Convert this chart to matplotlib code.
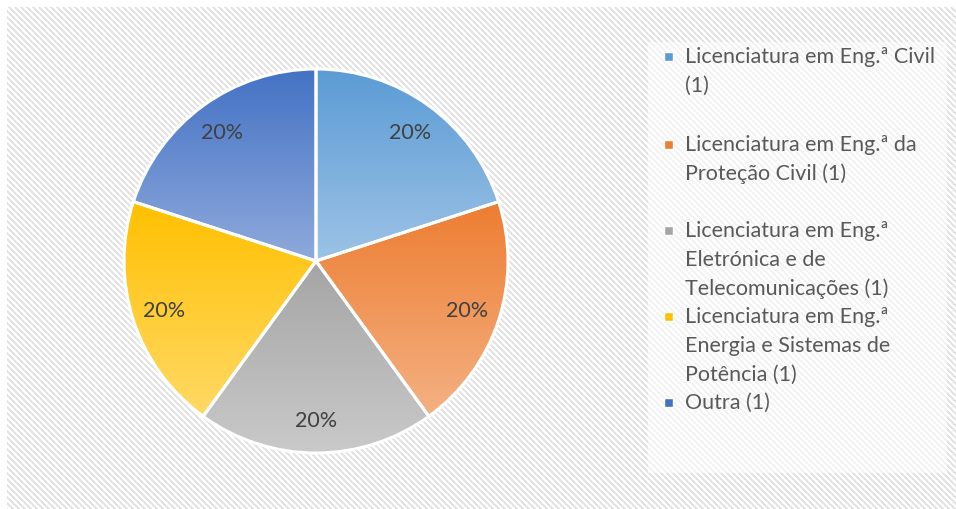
import numpy as np
import matplotlib
matplotlib.use("Agg")
import matplotlib.pyplot as plt
from matplotlib.colors import LinearSegmentedColormap

plt.rcParams['font.family'] = ['Lato', 'DejaVu Sans']

labels = ["Licenciatura em Eng.ª Civil\n(1)",
          "Licenciatura em Eng.ª da\nProteção Civil (1)",
          "Licenciatura em Eng.ª\nEletrónica e de\nTelecomunicações (1)",
          "Licenciatura em Eng.ª\nEnergia e Sistemas de\nPotência (1)",
          "Outra (1)"]
values = [1, 1, 1, 1, 1]
top_colors = ["#5B9BD5", "#ED7D31", "#A5A5A5", "#FFC000", "#4472C4"]
bottom_colors = ["#9DC3E6", "#F4B183", "#C9C9C9", "#FFD966", "#8FAADC"]
legend_y = [57, 145, 231, 317, 403]  # pixel rows of first legend line

W, H = 956, 510
fig = plt.figure(figsize=(W / 100, H / 100), dpi=100)

# background stripes
bg = fig.add_axes([0, 0, 1, 1])
yy, xx = np.mgrid[0:H, 0:W]
stripe = ((xx - yy) % 6) < 3
img = np.ones((H, W, 3))
gray = np.array([0xE4, 0xE4, 0xE4]) / 255
light = np.array([0xF3, 0xF3, 0xF3]) / 255
img[stripe] = gray
inleg = (xx >= 648) & (xx <= 946) & (yy >= 43) & (yy <= 473)
img[stripe & inleg] = light
img[(yy < 8) | (xx < 7)] = 1.0
bg.imshow(img, extent=[0, W, H, 0], interpolation='nearest')
bg.set_xlim(0, W)
bg.set_ylim(H, 0)
bg.axis('off')

cx, cy, r = 316, 262, 192
ax = fig.add_axes([(cx - r) / W, (H - cy - r) / H, 2 * r / W, 2 * r / H])
wedges, texts, autotexts = ax.pie(values, startangle=90, counterclock=False,
                                  colors=top_colors, autopct='%1.0f%%',
                                  pctdistance=0.83,
                                  wedgeprops=dict(edgecolor='white', linewidth=2.2),
                                  textprops=dict(color='#404040', fontsize=15.5))
for w, c1, c2 in zip(wedges, top_colors, bottom_colors):
    path = w.get_path().transformed(w.get_patch_transform())
    v = path.vertices
    x0, x1 = v[:, 0].min(), v[:, 0].max()
    y0, y1 = v[:, 1].min(), v[:, 1].max()
    cmap = LinearSegmentedColormap.from_list("g", [c2, c1])
    grad = np.linspace(0, 1, 256).reshape(-1, 1)
    im = ax.imshow(grad, cmap=cmap, extent=[x0, x1, y0, y1], origin='lower',
                   aspect='auto', zorder=1)
    im.set_clip_path(w)
    w.set_facecolor('none')
    w.set_zorder(2)
for t in autotexts:
    t.set_zorder(3)
ax.set_xlim(-1, 1)
ax.set_ylim(-1, 1)
ax.set_aspect('equal')
ax.axis('off')

# legend
for lab, c1, c2, ly in zip(labels, top_colors, bottom_colors, legend_y):
    bg.add_patch(plt.Rectangle((664, ly - 4), 9, 9, facecolor=c1, edgecolor='white', lw=1))
    lines = lab.split("\n")
    for i, ln in enumerate(lines):
        bg.text(685, ly + i * 29, ln, fontsize=15.5, color='#595959', va='center', ha='left')

fig.savefig("out.png", dpi=100)
